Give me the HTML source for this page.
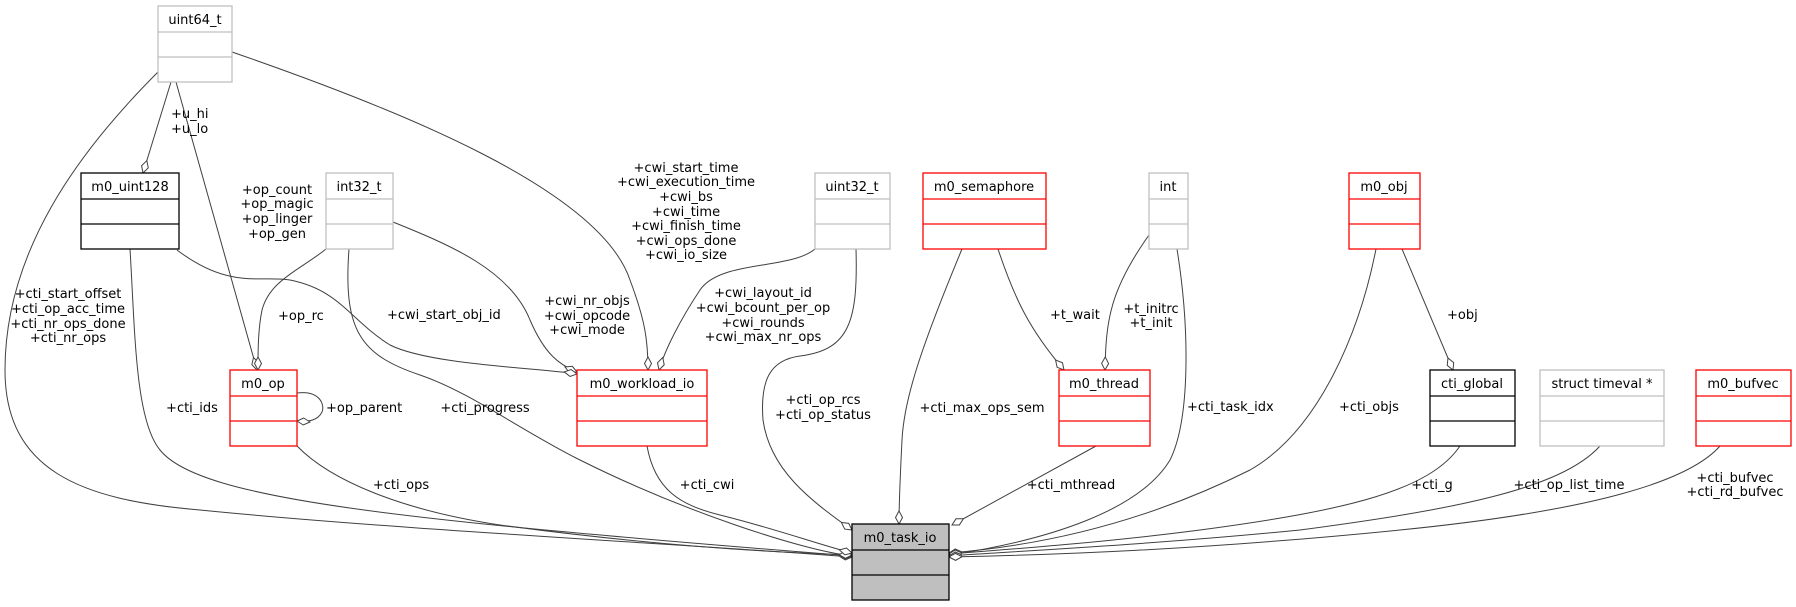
<!DOCTYPE html>
<html><head><meta charset="utf-8"><style>
html,body{margin:0;padding:0;background:#fff;width:1796px;height:607px;overflow:hidden}
svg text{font-family:"DejaVu Sans","Liberation Sans",sans-serif;font-size:13px;fill:#000}
</style></head><body>
<svg width="1796" height="607" viewBox="0 0 1796 607" xmlns="http://www.w3.org/2000/svg">
<defs>
<marker id="d" markerUnits="userSpaceOnUse" markerWidth="16" markerHeight="10" refX="14" refY="5" orient="auto" viewBox="0 0 16 10">
<path d="M14,5 L7.5,1.5 L1,5 L7.5,8.5 z" fill="#fff" stroke="#404040" stroke-width="1"/>
</marker>
</defs>
<g fill="none" stroke="#404040" stroke-width="1" marker-end="url(#d)">
<path d="M158,72 C80,150 5,250 5,370 C5,470 80,500 200,510 C400,530 700,545 852,557"/>
<path d="M130,249 C135,330 135,420 160,450 C200,500 400,520 852,556"/>
<path d="M176,82 L257,370"/>
<path d="M326,249 C300,270 270,280 262,310 C258,330 258,350 258,370"/>
<path d="M171,82 L143,173"/>
<path d="M232,52 C400,110 600,190 630,280 C645,320 648,340 648,370"/>
<path d="M815,249 C790,270 720,260 700,290 C680,320 665,350 659,370"/>
<path d="M393,222 C450,245 510,270 530,320 C545,355 560,365 577,372"/>
<path d="M177,250 C230,290 260,275 290,280 C340,290 350,320 390,345 C430,365 540,368 577,374"/>
<path d="M349,249 C343,330 360,355 420,375 C470,392 520,430 580,460 C680,510 800,550 852,556"/>
<path d="M297,446 C330,480 400,510 500,525 C650,545 760,552 852,555"/>
<path d="M647,446 C655,490 680,505 720,515 C780,530 820,545 852,553"/>
<path d="M856,249 C858,320 850,350 800,356 C770,360 760,380 763,420 C770,470 810,500 852,530"/>
<path d="M962,249 C920,350 904,400 902,440 C900,480 899,500 899,524"/>
<path d="M998,249 C1015,300 1030,330 1064,370"/>
<path d="M1149,235 C1110,290 1106,320 1105,370"/>
<path d="M1177,249 C1190,330 1190,420 1170,460 C1140,510 1050,540 949,555"/>
<path d="M1096,446 L952,525"/>
<path d="M1376,249 C1360,330 1320,430 1250,470 C1150,520 1050,545 949,553"/>
<path d="M1402,249 L1453,370"/>
<path d="M1460,446 C1430,490 1350,510 1200,530 C1100,543 1000,550 949,554"/>
<path d="M1600,446 C1560,490 1450,510 1300,530 C1150,545 1000,552 949,556"/>
<path d="M1720,446 C1690,480 1600,510 1400,530 C1200,550 1050,555 949,557"/>
<path d="M297,393 C320,390 325,405 322,412 C318,420 310,422 297,421"/>
</g>
<g stroke-width="1.3" fill="#fff">
<g stroke="#bfbfbf"><rect x="158" y="6" width="74" height="76"/><line x1="158" y1="32" x2="232" y2="32"/><line x1="158" y1="57" x2="232" y2="57"/></g>
<g stroke="#000"><rect x="81" y="173" width="98" height="76"/><line x1="81" y1="199" x2="179" y2="199"/><line x1="81" y1="224" x2="179" y2="224"/></g>
<g stroke="#bfbfbf"><rect x="326" y="173" width="67" height="76"/><line x1="326" y1="199" x2="393" y2="199"/><line x1="326" y1="224" x2="393" y2="224"/></g>
<g stroke="#ff0000"><rect x="230" y="370" width="67" height="76"/><line x1="230" y1="396" x2="297" y2="396"/><line x1="230" y1="421" x2="297" y2="421"/></g>
<g stroke="#ff0000"><rect x="577" y="370" width="130" height="76"/><line x1="577" y1="396" x2="707" y2="396"/><line x1="577" y1="421" x2="707" y2="421"/></g>
<g stroke="#bfbfbf"><rect x="815" y="173" width="75" height="76"/><line x1="815" y1="199" x2="890" y2="199"/><line x1="815" y1="224" x2="890" y2="224"/></g>
<g stroke="#ff0000"><rect x="923" y="173" width="123" height="76"/><line x1="923" y1="199" x2="1046" y2="199"/><line x1="923" y1="224" x2="1046" y2="224"/></g>
<g stroke="#bfbfbf"><rect x="1149" y="173" width="39" height="76"/><line x1="1149" y1="199" x2="1188" y2="199"/><line x1="1149" y1="224" x2="1188" y2="224"/></g>
<g stroke="#ff0000"><rect x="1059" y="370" width="91" height="76"/><line x1="1059" y1="396" x2="1150" y2="396"/><line x1="1059" y1="421" x2="1150" y2="421"/></g>
<g stroke="#ff0000"><rect x="1349" y="173" width="71" height="76"/><line x1="1349" y1="199" x2="1420" y2="199"/><line x1="1349" y1="224" x2="1420" y2="224"/></g>
<g stroke="#000"><rect x="1430" y="370" width="85" height="76"/><line x1="1430" y1="396" x2="1515" y2="396"/><line x1="1430" y1="421" x2="1515" y2="421"/></g>
<g stroke="#bfbfbf"><rect x="1540" y="370" width="124" height="76"/><line x1="1540" y1="396" x2="1664" y2="396"/><line x1="1540" y1="421" x2="1664" y2="421"/></g>
<g stroke="#ff0000"><rect x="1696" y="370" width="95" height="76"/><line x1="1696" y1="396" x2="1791" y2="396"/><line x1="1696" y1="421" x2="1791" y2="421"/></g>
<g stroke="#000" fill="#bfbfbf"><rect x="852" y="524" width="97" height="76"/><line x1="852" y1="550" x2="949" y2="550"/><line x1="852" y1="575" x2="949" y2="575"/></g>
</g>
<g text-anchor="middle">
<text x="195" y="24">uint64_t</text>
<text x="130" y="191">m0_uint128</text>
<text x="359" y="191">int32_t</text>
<text x="263" y="388">m0_op</text>
<text x="642" y="388">m0_workload_io</text>
<text x="852" y="191">uint32_t</text>
<text x="984" y="191">m0_semaphore</text>
<text x="1168" y="191">int</text>
<text x="1104" y="388">m0_thread</text>
<text x="1384" y="191">m0_obj</text>
<text x="1472" y="388">cti_global</text>
<text x="1602" y="388">struct timeval *</text>
<text x="1743" y="388">m0_bufvec</text>
<text x="900" y="542">m0_task_io</text>
</g>
<g text-anchor="start">
<text x="171" y="118">+u_hi</text><text x="171" y="133">+u_lo</text>
<text x="278" y="320">+op_rc</text>
<text x="387" y="319">+cwi_start_obj_id</text>
<text x="326" y="412">+op_parent</text>
<text x="1050" y="319">+t_wait</text>
<text x="1187" y="411">+cti_task_idx</text>
<text x="1447" y="319">+obj</text>
<text x="1339" y="411">+cti_objs</text>
</g>
<g text-anchor="middle">
<text x="277" y="194">+op_count</text><text x="277" y="208">+op_magic</text><text x="277" y="223">+op_linger</text><text x="277" y="238">+op_gen</text>
<text x="686" y="172">+cwi_start_time</text><text x="686" y="186">+cwi_execution_time</text><text x="686" y="201">+cwi_bs</text><text x="686" y="216">+cwi_time</text><text x="686" y="230">+cwi_finish_time</text><text x="686" y="245">+cwi_ops_done</text><text x="686" y="259">+cwi_io_size</text>
<text x="68" y="298">+cti_start_offset</text><text x="68" y="313">+cti_op_acc_time</text><text x="68" y="328">+cti_nr_ops_done</text><text x="68" y="342">+cti_nr_ops</text>
<text x="587" y="305">+cwi_nr_objs</text><text x="587" y="320">+cwi_opcode</text><text x="587" y="334">+cwi_mode</text>
<text x="763" y="297">+cwi_layout_id</text><text x="763" y="312">+cwi_bcount_per_op</text><text x="763" y="327">+cwi_rounds</text><text x="763" y="341">+cwi_max_nr_ops</text>
<text x="192" y="412">+cti_ids</text>
<text x="485" y="412">+cti_progress</text>
<text x="823" y="404">+cti_op_rcs</text><text x="823" y="419">+cti_op_status</text>
<text x="982" y="412">+cti_max_ops_sem</text>
<text x="1151" y="313">+t_initrc</text><text x="1151" y="327">+t_init</text>
<text x="401" y="489">+cti_ops</text>
<text x="707" y="489">+cti_cwi</text>
<text x="1071" y="489">+cti_mthread</text>
<text x="1432" y="489">+cti_g</text>
<text x="1569" y="489">+cti_op_list_time</text>
<text x="1735" y="482">+cti_bufvec</text><text x="1735" y="496">+cti_rd_bufvec</text>
</g>
</svg>
</body></html>
